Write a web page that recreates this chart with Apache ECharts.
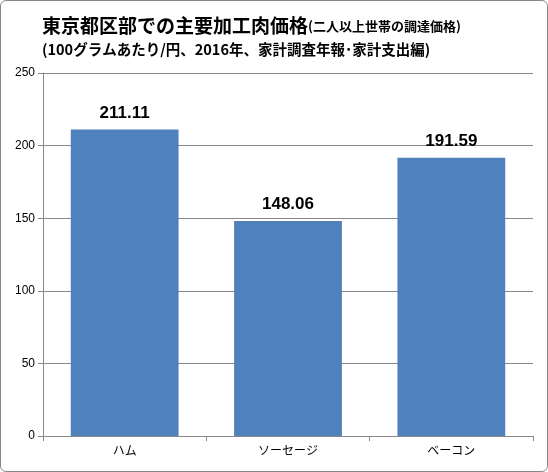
<!DOCTYPE html>
<html><head><meta charset="utf-8">
<script src="https://cdn.jsdelivr.net/npm/echarts@6/dist/echarts.min.js"></script>
<style>
html,body{margin:0;padding:0;background:#fff}
#main{width:546px;height:470px;border:1px solid #888;border-radius:6px}
</style></head>
<body><div id="main"></div>
<script>
var categories = ['ハム', 'ソーセージ', 'ベーコン'];
var prices = [211.11, 148.06, 191.59];
var yTicks = {min: 0, max: 250, interval: 50};

var chart = echarts.init(document.getElementById('main'));
chart.setOption({
    animation: false,
    title: {
        text: '{a|東京都区部での主要加工肉価格}{b|(二人以上世帯の調達価格)}\n{c|(100グラムあたり/円、2016年、家計調査年報･家計支出編)}',
        left: 36, top: 8,
        textStyle: {
            rich: {
                a: {fontSize: 19, fontWeight: 'bold', color: '#000', fontFamily: 'Noto Sans CJK JP', lineHeight: 24},
                b: {fontSize: 13, fontWeight: 'bold', color: '#000', fontFamily: 'Noto Sans CJK JP', lineHeight: 24},
                c: {fontSize: 14.5, fontWeight: 'bold', color: '#000', fontFamily: 'Noto Sans CJK JP', lineHeight: 22}
            }
        }
    },
    grid: {left: 42, right: 14, top: 72, bottom: 35},
    xAxis: {
        type: 'category', data: categories,
        axisLine: {lineStyle: {color: '#888'}},
        axisTick: {show: true, lineStyle: {color: '#888'}},
        axisLabel: {color: '#000', fontSize: 12, fontFamily: 'Noto Sans CJK JP'}
    },
    yAxis: {
        type: 'value', min: yTicks.min, max: yTicks.max, interval: yTicks.interval,
        axisLine: {show: true, lineStyle: {color: '#888'}},
        axisTick: {show: true, lineStyle: {color: '#888'}},
        axisLabel: {color: '#000', fontSize: 12},
        splitLine: {lineStyle: {color: '#888'}}
    },
    series: [{
        type: 'bar', data: prices, barWidth: '66%',
        itemStyle: {color: '#4f81bd'},
        label: {show: true, position: 'top', distance: 8, fontSize: 17, fontWeight: 'bold', color: '#000',
            formatter: function (p) { return p.value.toFixed(2); }}
    }]
});
</script></body></html>
